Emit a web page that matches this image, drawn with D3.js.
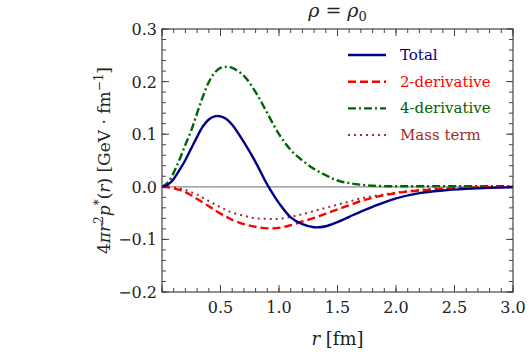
<!DOCTYPE html>
<html>
<head>
<meta charset="utf-8">
<script src="https://cdn.jsdelivr.net/npm/d3@7"></script>
<style>
  body { margin: 0; background: #fff; }
  text { font-family: "DejaVu Serif", serif; fill: #222; }
</style>
</head>
<body>
<div id="chart"></div>
<script>
var margin = { top: 29, right: 16, bottom: 62, left: 162 };
var width = 529 - margin.left - margin.right;
var height = 354 - margin.top - margin.bottom;

// radius samples (fm) and the four curves
var rValues = [0, 0.05, 0.1, 0.15, 0.2, 0.25, 0.3, 0.35, 0.4, 0.45, 0.5, 0.55, 0.6, 0.7, 0.8, 0.9, 1.0,
    1.1, 1.2, 1.3, 1.4, 1.5, 1.6, 1.7, 1.8, 2.0, 2.2, 2.4, 2.6, 2.8, 3.0];
var totalValues = [0, 0.004, 0.015, 0.032, 0.051, 0.073, 0.095, 0.115, 0.128, 0.134, 0.134, 0.129, 0.118, 0.085, 0.047, 0.004, -0.031,
    -0.058, -0.071, -0.077, -0.075, -0.067, -0.057, -0.047, -0.038, -0.022, -0.012, -0.007, -0.004, -0.002, -0.001];
var twoDerivValues = [0, -0.001, -0.003, -0.006, -0.010, -0.016, -0.023, -0.030, -0.037, -0.044, -0.051, -0.057, -0.063, -0.071, -0.076, -0.079, -0.078,
    -0.073, -0.066, -0.059, -0.051, -0.043, -0.035, -0.027, -0.021, -0.012, -0.007, -0.004, -0.002, -0.001, 0];
var fourDerivValues = [0, 0.008, 0.027, 0.052, 0.080, 0.107, 0.140, 0.172, 0.199, 0.217, 0.226, 0.228, 0.226, 0.211, 0.180, 0.140, 0.100,
    0.070, 0.050, 0.034, 0.022, 0.012, 0.007, 0.004, 0.002, 0.001, 0.001, 0.001, 0.001, 0.001, 0.001];
var massValues = [0, 0, -0.001, -0.003, -0.006, -0.010, -0.015, -0.021, -0.027, -0.033, -0.039, -0.044, -0.049, -0.055, -0.060, -0.061, -0.061,
    -0.057, -0.052, -0.046, -0.040, -0.034, -0.028, -0.022, -0.018, -0.011, -0.006, -0.003, -0.002, -0.001, 0];

var xTickLabels = [0.5, 1.0, 1.5, 2.0, 2.5, 3.0];
var yTickLabels = [-0.2, -0.1, 0.0, 0.1, 0.2, 0.3];

var series = [
    { name: "Total", values: totalValues, color: "#00008b", dash: null, width: 2.4 },
    { name: "2-derivative", values: twoDerivValues, color: "#ff0000", dash: "8,4", width: 2.4 },
    { name: "4-derivative", values: fourDerivValues, color: "#006400", dash: "8,3,2,3", width: 2.4 },
    { name: "Mass term", values: massValues, color: "#a52a2a", dash: "2,4", width: 2 }
];

var svg = d3.select("#chart").append("svg")
    .attr("width", width + margin.left + margin.right)
    .attr("height", height + margin.top + margin.bottom)
    .append("g")
    .attr("transform", "translate(" + margin.left + "," + margin.top + ")");

var x = d3.scaleLinear().domain([0, 3]).range([0, width]);
var y = d3.scaleLinear().domain([-0.2, 0.3]).range([height, 0]);

// minor + major ticks on all four sides, pointing inward
var xMinor = d3.range(0, 3.001, 0.1);
var yMinor = d3.range(-0.2, 0.3001, 0.02);
var frameColor = "#444";

function tickLines(vals, isX, isMajor) {
    var len = isMajor ? 7 : 4;
    var g = svg.append("g").attr("stroke", frameColor).attr("stroke-width", 1);
    vals.forEach(function(v) {
        if (isX) {
            var px = x(v);
            g.append("line").attr("x1", px).attr("x2", px).attr("y1", height).attr("y2", height - len);
            g.append("line").attr("x1", px).attr("x2", px).attr("y1", 0).attr("y2", len);
        } else {
            var py = y(v);
            g.append("line").attr("y1", py).attr("y2", py).attr("x1", 0).attr("x2", len);
            g.append("line").attr("y1", py).attr("y2", py).attr("x1", width).attr("x2", width - len);
        }
    });
}
tickLines(xMinor, true, false);
tickLines(d3.range(0, 3.001, 0.5), true, true);
tickLines(yMinor, false, false);
tickLines(yTickLabels, false, true);

// zero line
svg.append("line")
    .attr("x1", 0).attr("x2", width)
    .attr("y1", y(0)).attr("y2", y(0))
    .attr("stroke", "#8a8a8a")
    .attr("stroke-width", 1.3);

var line = d3.line()
    .x(function(d, i) { return x(rValues[i]); })
    .y(function(d) { return y(d); })
    .curve(d3.curveCatmullRom);

var clip = svg.append("clipPath").attr("id", "clip")
    .append("rect").attr("width", width).attr("height", height);

// draw back to front so Total ends on top
series.slice().reverse().forEach(function(s) {
    svg.append("path")
        .datum(s.values)
        .attr("clip-path", "url(#clip)")
        .attr("fill", "none")
        .attr("stroke", s.color)
        .attr("stroke-width", s.width)
        .attr("stroke-dasharray", s.dash)
        .attr("d", line);
});

// frame
svg.append("rect")
    .attr("width", width).attr("height", height)
    .attr("fill", "none")
    .attr("stroke", frameColor)
    .attr("stroke-width", 1.2);

// tick labels
svg.selectAll(".xlab").data(xTickLabels).enter().append("text")
    .attr("x", function(d) { return x(d); })
    .attr("y", height + 21)
    .attr("text-anchor", "middle")
    .attr("font-size", 16)
    .text(function(d) { return d.toFixed(1); });

svg.selectAll(".ylab").data(yTickLabels).enter().append("text")
    .attr("x", -5)
    .attr("y", function(d) { return y(d) + 6; })
    .attr("text-anchor", "end")
    .attr("font-size", 16)
    .text(function(d) { return d < 0 ? "\u2212" + Math.abs(d).toFixed(1) : d.toFixed(1); });

// legend
var legend = svg.append("g").attr("transform", "translate(" + (348 - margin.left) + "," + (55 - margin.top) + ")");
series.forEach(function(s, i) {
    var ly = i * 26.7;
    legend.append("line")
        .attr("x1", 0).attr("x2", 38)
        .attr("y1", ly).attr("y2", ly)
        .attr("stroke", s.color)
        .attr("stroke-width", s.width)
        .attr("stroke-dasharray", s.dash);
    legend.append("text")
        .attr("x", 52).attr("y", ly + 5)
        .attr("font-size", 15)
        .style("fill", s.color)
        .text(s.name);
});

// title
var title = svg.append("text")
    .attr("x", width / 2).attr("y", -12)
    .attr("text-anchor", "middle")
    .attr("font-size", 19);
title.append("tspan").attr("font-style", "italic").text("\u03c1");
title.append("tspan").text(" = ");
title.append("tspan").attr("font-style", "italic").text("\u03c1");
title.append("tspan").attr("font-size", 13).attr("dy", 4).text("0");

// x label
var xl = svg.append("text")
    .attr("x", width / 2).attr("y", height + 53)
    .attr("text-anchor", "middle")
    .attr("font-size", 18);
xl.append("tspan").attr("font-style", "italic").text("r");
xl.append("tspan").text(" [fm]");

// y label
var yl = svg.append("text")
    .attr("transform", "translate(" + (-52) + "," + (height / 2) + ") rotate(-90)")
    .attr("text-anchor", "middle")
    .attr("font-size", 17);
yl.append("tspan").text("4");
yl.append("tspan").attr("font-style", "italic").text("\u03c0r");
yl.append("tspan").attr("font-size", 12).attr("dy", -7).text("2");
yl.append("tspan").attr("font-style", "italic").attr("dy", 7).text("p");
yl.append("tspan").attr("font-size", 12).attr("dy", -7).text("*");
yl.append("tspan").attr("dy", 7).text("(");
yl.append("tspan").attr("font-style", "italic").text("r");
yl.append("tspan").text(")  [GeV \u00b7 fm");
yl.append("tspan").attr("font-size", 12).attr("dy", -7).text("\u22121");
yl.append("tspan").attr("dy", 7).text("]");
</script>
</body>
</html>
